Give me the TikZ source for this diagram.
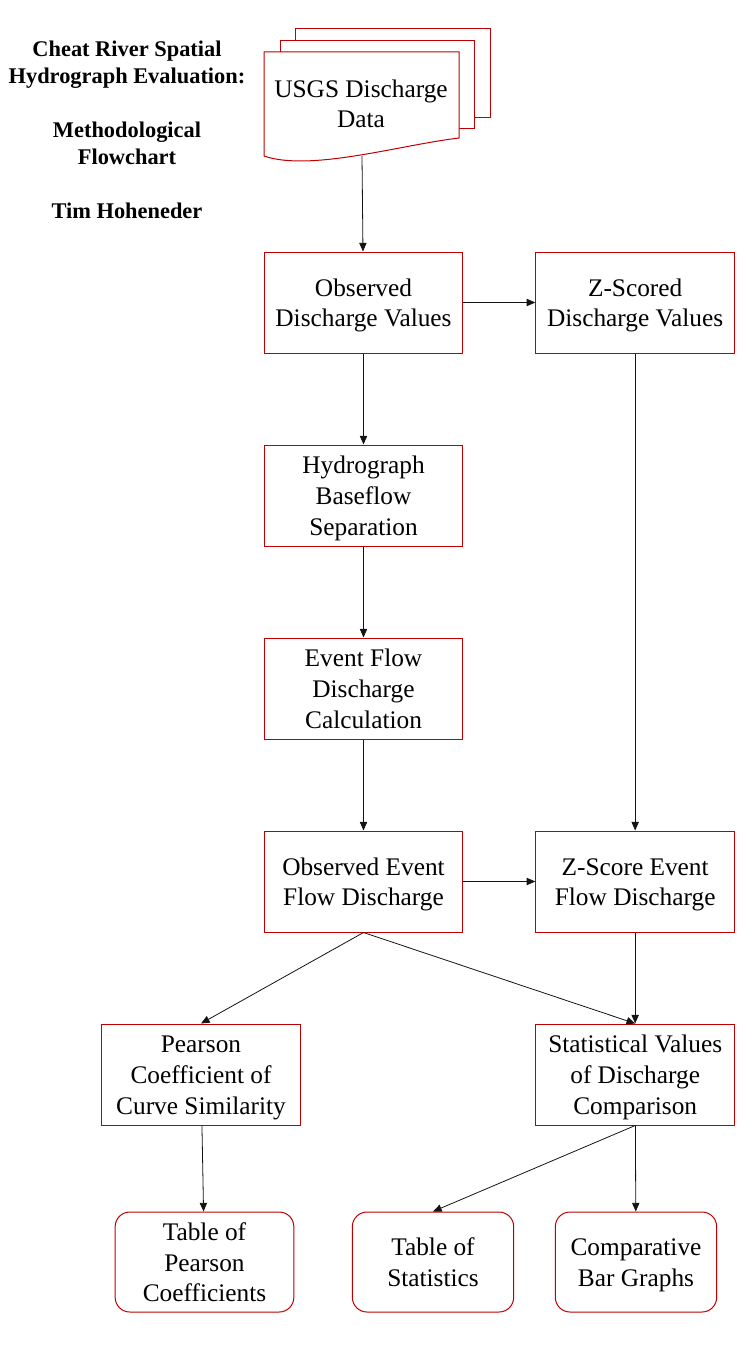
\documentclass[tikz,border=0pt]{standalone}
\usepackage{fontspec}
\setmainfont{Liberation Serif}
\newfontfamily\boxfont{Liberation Serif}
\usetikzlibrary{positioning,arrows.meta}
\definecolor{hgRed}{RGB}{192,0,0}
\definecolor{hgInk}{RGB}{20,20,20}
\newcommand{\topstrut}{\rule{0pt}{18.1pt}}
\newcommand{\botstrut}{\rule[-4.6pt]{0pt}{4.6pt}}
\tikzset{
    base/.style={font=\boxfont\fontsize{19}{22.9}\selectfont, align=center, text=black},
    process/.style={base, rectangle, draw=hgRed, line width=0.75pt, fill=white,
                    minimum width=149pt, minimum height=75.75pt, inner sep=2pt},
    product/.style={process, rounded corners=11pt, minimum height=75pt},
    page/.style={draw=hgRed, line width=0.75pt, fill=white},
    flow/.style={-{Triangle[length=6.5pt,width=5.5pt]}, line width=0.6pt, color=hgInk},
    heading/.style={font=\boxfont\fontsize{16.8}{20.25}\selectfont\bfseries, align=center}
}
\begin{document}
\begin{tikzpicture}[x=0.75pt, y=-0.75pt, node distance=68.25pt]
  \useasboundingbox (0,0) rectangle (752,1345);

  % title block
  \node[heading] (title) at (127,130)
    {Cheat River Spatial\\Hydrograph Evaluation:\\[20.25pt]Methodological\\Flowchart\\[20.25pt]Tim Hoheneder};

  % stacked data document
  \draw[page] (295,29) rectangle (490,117);
  \draw[page] (280,41) rectangle (474,128);
  \draw[page] (264,52) -- (459,52) -- (459,138) .. controls (400,145) and (310,172) .. (264,156) -- cycle;
  \node[base] (usgs) at (361,104) {USGS Discharge\\Data};
  \coordinate (usgsbot) at (362,156);

  % main column
  \node[process] (obs) at (363.5,302.5) {\topstrut Observed\\Discharge Values\botstrut};
  \node[process] (zsc) [right=54pt of obs] {\topstrut Z-Scored\\Discharge Values\botstrut};
  \node[process] (hyd) [below=of obs] {\topstrut Hydrograph\\Baseflow\\Separation\botstrut};
  \node[process] (evc) [below=of hyd] {\topstrut Event Flow\\Discharge\\Calculation\botstrut};
  \node[process] (oef) [below=of evc] {\topstrut Observed Event\\Flow Discharge\botstrut};
  \node[process] (zef) [right=54pt of oef] {\topstrut Z-Score Event\\Flow Discharge\botstrut};
  \node[process] (svd) [below=of zef] {\topstrut Statistical Values\\of Discharge\\Comparison\botstrut};
  \node[process] (pcs) at (201,1074.5) {\topstrut Pearson\\Coefficient of\\Curve Similarity\botstrut};

  % outputs
  \node[product, minimum width=134pt] (tpc) at (204.5,1262) {\topstrut Table of\\Pearson\\Coefficients\botstrut};
  \node[product, minimum width=121pt] (tst) at (433,1262) {\topstrut Table of\\Statistics\botstrut};
  \node[product, minimum width=121pt] (cbg) at (636,1262) {\topstrut Comparative\\Bar Graphs\botstrut};

  \draw[flow] (usgsbot) -- (obs);
  \draw[flow] (obs) -- (zsc);
  \draw[flow] (obs) -- (hyd);
  \draw[flow] (hyd) -- (evc);
  \draw[flow] (evc) -- (oef);
  \draw[flow] (zsc) -- (zef);
  \draw[flow] (oef) -- (zef);
  \draw[flow] (oef.south) -- (pcs.north);
  \draw[flow] (oef.south) -- (svd.north);
  \draw[flow] (zef) -- (svd);
  \draw[flow] (pcs) -- (tpc);
  \draw[flow] (svd.south) -- (tst.north);
  \draw[flow] (svd) -- (cbg);
\end{tikzpicture}
\end{document}
